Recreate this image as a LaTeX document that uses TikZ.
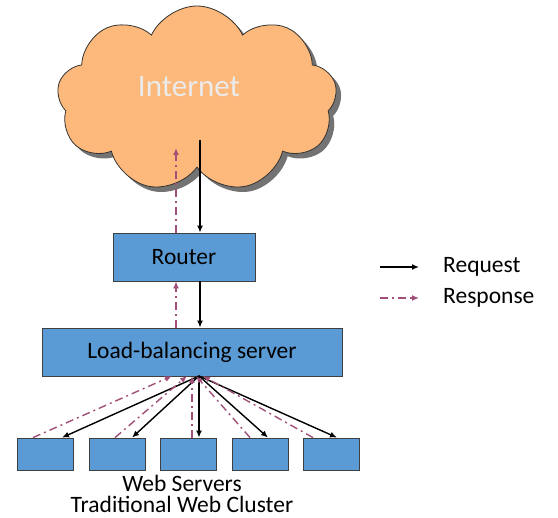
\documentclass[tikz,border=0pt]{standalone}
\usepackage{fontspec}
\setmainfont{Carlito}
\usetikzlibrary{shapes.symbols,shadows,arrows.meta}
\definecolor{boxblue}{HTML}{5B9BD5}
\definecolor{cloudorange}{HTML}{FCB97B}
\definecolor{respcol}{HTML}{A05078}
\tikzset{
  blue box/.style={rectangle,draw=black!75,line width=0.8pt,fill=boxblue,
    inner sep=0pt,font=\fontsize{23.5}{27}\selectfont},
  web box/.style={blue box,minimum width=56pt,minimum height=32pt},
  req/.style={-{Latex[length=7pt,width=6pt]},line width=1.4pt,black},
  resp/.style={-{Latex[length=7pt,width=6pt]},line width=1.4pt,respcol,
    dash pattern=on 8pt off 4pt on 2pt off 4pt},
  lbl/.style={font=\fontsize{23.5}{27}\selectfont,inner sep=0pt}
}
\begin{document}
\begin{tikzpicture}[x=1pt,y=-1pt]
\useasboundingbox (0,0) rectangle (558,518);
% cloud
\node[cloud,cloud puffs=9,cloud puff arc=130,cloud ignores aspect,
  minimum width=280pt,minimum height=186pt,draw=black!80,line width=0.8pt,
  fill=cloudorange,drop shadow={shadow xshift=5pt,shadow yshift=-5pt,
  opacity=0.55,fill=black}] (inet) at (197,99) {};
\node[font=\fontsize{31}{35}\selectfont,text=black!8!white,inner sep=0pt] (nettxt) at (189,87) {Internet};
\coordinate (reqin) at (200,140);
\coordinate (respout) at (176,148);
% boxes
\node[blue box,minimum width=142pt,minimum height=48pt] (router) at (184,257) {Router};
\node[blue box,minimum width=300pt,minimum height=48pt] (lb) at (192,352) {Load-balancing server};
\foreach \i/\x in {1/45,2/117,3/188,4/260,5/331}
  \node[web box] (ws\i) at (\x,454) {};
\node[lbl,align=center,font=\fontsize{23.5}{21.5}\selectfont] (wstxt) at (182,494)
  {Web Servers\\Traditional Web Cluster};
% request / response
\draw[req] (reqin) -- (reqin |- router.north);
\draw[resp] (respout |- router.north) -- (respout);
\draw[req] (router.south -| reqin) -- (lb.north -| reqin);
\draw[resp] (lb.north -| respout) -- (router.south -| respout);
\coordinate (fan) at (199,376);
\foreach \i/\d in {1/17,2/15,3/11,4/8,5/6}
  \draw[req] (fan) -- ([xshift=\d pt]ws\i.north);
\foreach \i/\s/\e in {1/-12/172,2/-2/187,3/4/192,4/-10/196,5/-18/203}
  \draw[resp] ([xshift=\s pt]ws\i.north) -- (\e,376);
% legend
\coordinate (la) at (380,267);
\coordinate (lb1) at (380,298);
\draw[req] (la) -- ++(39,0) coordinate (la2);
\draw[resp] (lb1) -- ++(39,0) coordinate (lb2);
\node[lbl,anchor=west] (reqtxt) at (443,267) {Request};
\node[lbl,anchor=west] (resptxt) at (443,298) {Response};
\end{tikzpicture}
\end{document}
